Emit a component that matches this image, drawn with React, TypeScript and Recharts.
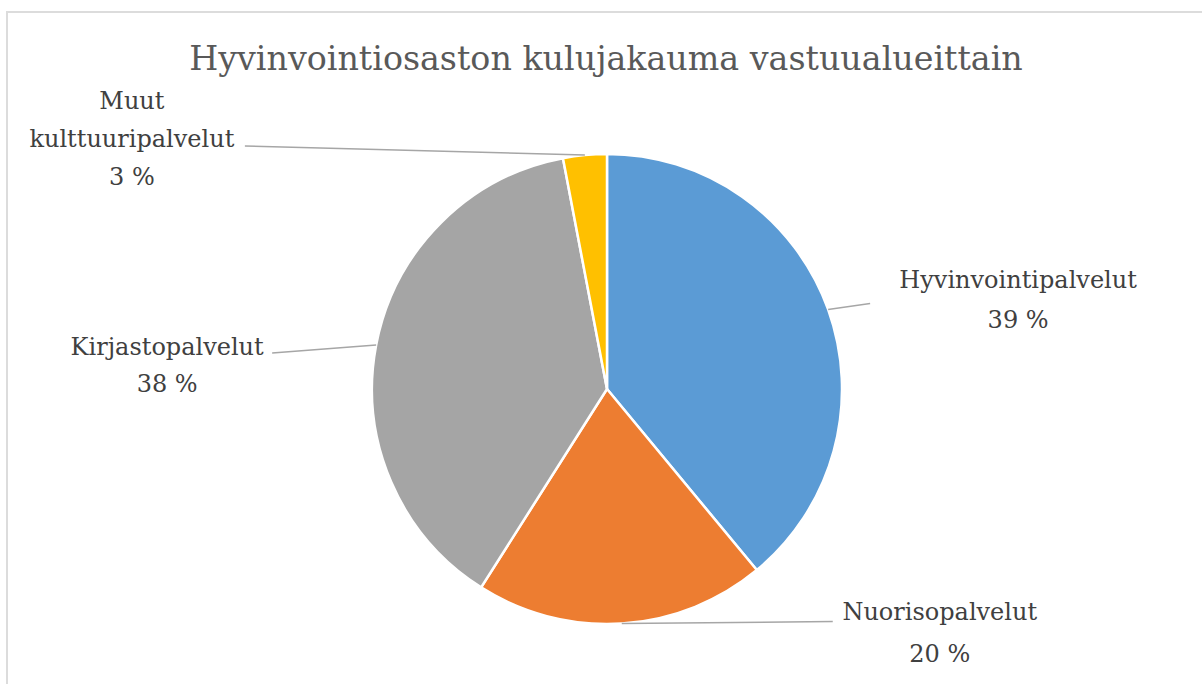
import React from "react";
import { PieChart, Pie, Cell } from "recharts";

const categories = ["Hyvinvointipalvelut", "Nuorisopalvelut", "Kirjastopalvelut", "Muut kulttuuripalvelut"];
const shares = [39, 20, 38, 3];
const colors = ["#5B9BD5", "#ED7D31", "#A5A5A5", "#FFC000"];
const title = "Hyvinvointiosaston kulujakauma vastuualueittain";

const data = categories.map((name, i) => ({ name, value: shares[i] }));

// label placement offsets relative to the slice's outer edge point (style only)
const labelLayout = [
  { lx: 42, ly: -6, tx: 190, ty: -29, lh: 40 },
  { lx: 211, ly: -2, tx: 318, ty: -12, lh: 42 },
  { lx: -104, ly: 8, tx: -209, ty: 2, lh: 37 },
  { lx: -340, ly: -9, tx: -453, ty: -54, lh: 38 },
];

const FONT = "'DejaVu Serif', serif";
const RAD = Math.PI / 180;

const renderLabel = (props: any) => {
  const { cx, cy, midAngle, outerRadius, index, name, value } = props;
  const ex = cx + outerRadius * Math.cos(-midAngle * RAD);
  const ey = cy + outerRadius * Math.sin(-midAngle * RAD);
  const L = labelLayout[index];
  const lines = [...String(name).split(" "), `${value} %`];
  return (
    <g key={`lbl-${index}`}>
      <line x1={ex} y1={ey} x2={ex + L.lx} y2={ey + L.ly} stroke="#A6A6A6" strokeWidth={1.5} />
      <text
        x={ex + L.tx}
        y={ey + L.ty}
        textAnchor="middle"
        fill="#404040"
        fontFamily={FONT}
        fontSize={24}
      >
        {lines.map((t, k) => (
          <tspan key={k} x={ex + L.tx} y={ey + L.ty + k * L.lh} dominantBaseline="central">
            {t}
          </tspan>
        ))}
      </text>
    </g>
  );
};

export default function App() {
  return (
    <div style={{ position: "absolute", left: 0, top: 0, width: 1202, height: 684, overflow: "hidden", background: "#fff" }}>
      <div
        style={{
          position: "absolute",
          left: 6,
          top: 11,
          width: 1300,
          height: 800,
          border: "2px solid #DCDCDC",
          boxSizing: "border-box",
        }}
      />
      <div
        style={{
          position: "absolute",
          left: 0,
          top: 37,
          width: 1212,
          textAlign: "center",
          fontFamily: FONT,
          fontSize: 33.3,
          color: "#595959",
          lineHeight: "44px",
        }}
      >
        {title}
      </div>
      <div style={{ position: "absolute", left: 0, top: 0 }}>
        <PieChart width={1202} height={684} margin={{ top: 0, right: 0, bottom: 0, left: 0 }}>
          <Pie
            data={data}
            dataKey="value"
            nameKey="name"
            cx={607}
            cy={389}
            outerRadius={235}
            startAngle={90}
            endAngle={-270}
            stroke="#FFFFFF"
            strokeWidth={2.5}
            label={renderLabel}
            labelLine={false}
            isAnimationActive={false}
          >
            {data.map((d, i) => (
              <Cell key={d.name} fill={colors[i]} />
            ))}
          </Pie>
        </PieChart>
      </div>
    </div>
  );
}
